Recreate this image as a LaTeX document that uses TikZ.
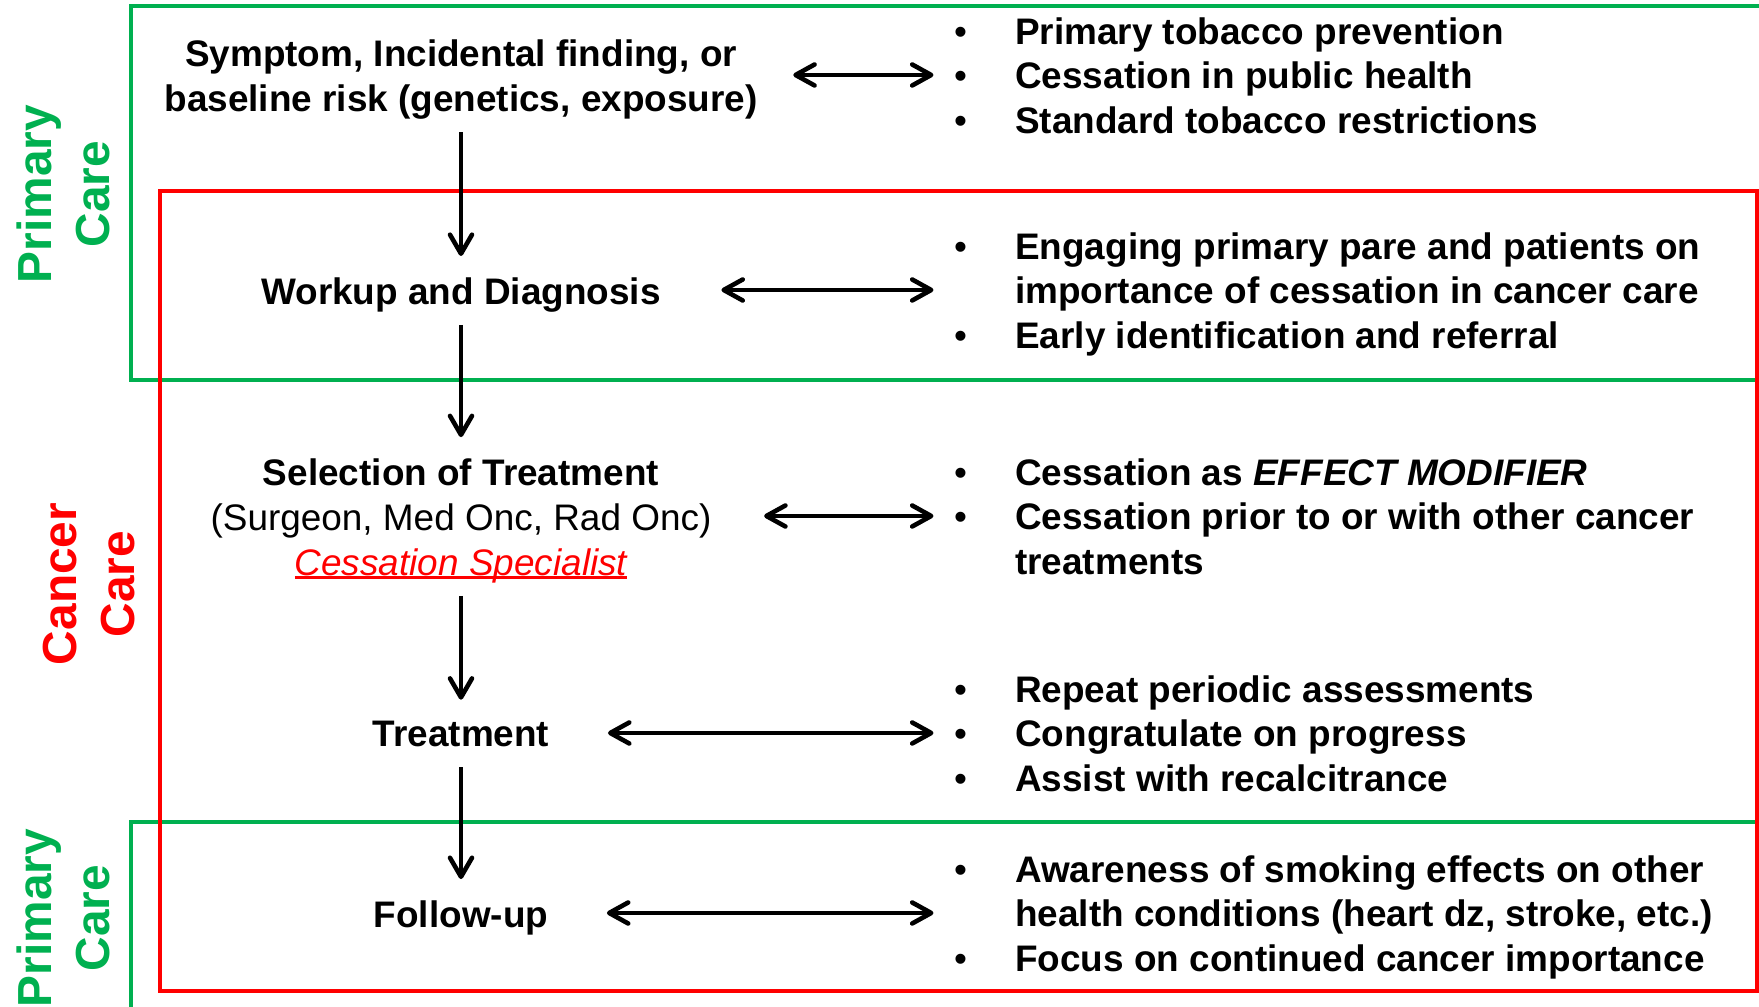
\documentclass[tikz,border=0pt]{standalone}
\usepackage{fontspec}
\setmainfont{Liberation Sans}
\usetikzlibrary{arrows.meta,positioning}
\definecolor{pcgreen}{RGB}{0,176,80}
\definecolor{ccred}{RGB}{255,0,0}
\newcommand{\bul}{\makebox[0.61cm][l]{\mdseries\textbullet}}
\newcommand{\ppline}[1]{\setbox0\hbox{#1}\rlap{\rule[-0.9pt]{\wd0}{0.6pt}}\box0}

\begin{document}
\begin{tikzpicture}[x=0.01cm,y=-0.01cm,
	box/.style={line width=0.9pt},
	stage/.style={font=\fontsize{10.5}{12.77}\selectfont\bfseries, align=center, inner sep=0pt},
	notes/.style={font=\fontsize{10.5}{12.77}\selectfont\bfseries, anchor=west, inner sep=0pt},
	care/.style={font=\fontsize{13.6}{16.5}\selectfont\bfseries, align=center, rotate=90, inner sep=0pt},
	down/.style={-{Straight Barb[length=1.9mm,width=2.2mm,round]}, line width=1.3pt, shorten <=0.12cm, shorten >=0.21cm},
	both/.style={{Straight Barb[length=1.9mm,width=2.1mm,round]}-{Straight Barb[length=1.9mm,width=2.1mm,round]}, line width=1.3pt, shorten >=0.2cm}]
		\useasboundingbox (0,0) rectangle (1759,1007);
		\draw[pcgreen, box] (1759,6) -- (131,6) -- (131,380) -- (1759,380);
		\draw[pcgreen, box] (1759,822) -- (131,822) -- (131,1007);
		\draw[ccred, box] (160,191) rectangle (1757,991);
		\node[care, pcgreen] (pc1) at (63.5,194) {Primary\\Care};
		\node[care, ccred] (cc) at (89.5,584) {Cancer\\Care};
		\node[care, pcgreen] (pc2) at (63,918) {Primary\\Care};
		\node[stage] (sym) at (461,80) {Symptom, Incidental finding, or\\baseline risk (genetics, exposure)};
		\node[stage] (work) at (461,295) {Workup and Diagnosis};
		\node[stage] (sel) at (461,521) {Selection of Treatment\\{\mdseries (Surgeon, Med Onc, Rad Onc)}\\{\mdseries\itshape\color{ccred}\ppline{Cessation Specialist}}};
		\node[stage, text depth=2.2pt] (treat) at (461,738) {Treatment};
		\node[stage] (fup) at (461,918) {Follow-up};
		\node[notes] (prev) at (953.5,80) {\begin{tabular}{@{}l@{}l@{}}
			\bul & Primary tobacco prevention\\
			\bul & Cessation in public health\\
			\bul & Standard tobacco restrictions
		\end{tabular}};
		\node[notes] (engage) at (953.5,295) {\begin{tabular}{@{}l@{}l@{}}
			\bul & Engaging primary pare and patients on\\
			 & importance of cessation in cancer care\\
			\bul & Early identification and referral
		\end{tabular}};
		\node[notes] (modif) at (953.5,521) {\begin{tabular}{@{}l@{}l@{}}
			\bul & Cessation as \textit{EFFECT MODIFIER}\\
			\bul & Cessation prior to or with other cancer\\
			 & treatments
		\end{tabular}};
		\node[notes] (assess) at (953.5,738) {\begin{tabular}{@{}l@{}l@{}}
			\bul & Repeat periodic assessments\\
			\bul & Congratulate on progress\\
			\bul & Assist with recalcitrance
		\end{tabular}};
		\node[notes] (aware) at (953.5,918) {\begin{tabular}{@{}l@{}l@{}}
			\bul & Awareness of smoking effects on other\\
			 & health conditions (heart dz, stroke, etc.)\\
			\bul & Focus on continued cancer importance
		\end{tabular}};
		\draw[down] (sym) -- (work);
		\draw[down] (work) -- (sel);
		\draw[down] (sel) -- (treat);
		\draw[down] (treat) -- (fup);
		\draw[both, shorten <=0.35cm] ([yshift=0.05cm]sym.east) -- ([yshift=0.05cm]prev.west);
		\draw[both, shorten <=0.6cm] ([yshift=0.05cm]work.east) -- ([yshift=0.05cm]engage.west);
		\draw[both, shorten <=0.52cm] ([yshift=0.05cm]sel.east) -- ([yshift=0.05cm]modif.west);
		\draw[both, shorten <=0.58cm] ([yshift=0.05cm]treat.east) -- ([yshift=0.05cm]assess.west);
		\draw[both, shorten <=0.58cm] ([yshift=0.05cm]fup.east) -- ([yshift=0.05cm]aware.west);
	\end{tikzpicture}
\end{document}
